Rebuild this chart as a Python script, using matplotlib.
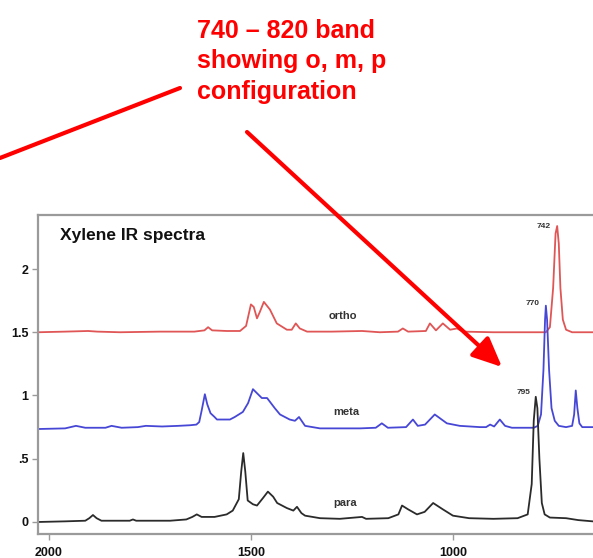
#%% importing modules
import numpy as np
import matplotlib.pyplot as plt
from matplotlib.ticker import FixedLocator, FixedFormatter

#%% spectra (wavenumber, absorbance offset)
ortho_wn = [2027, 1960, 1903, 1880, 1824, 1725, 1640, 1615, 1606, 1596, 1560, 1527,
            1512, 1500, 1493, 1485, 1478, 1468, 1453, 1436, 1411, 1399, 1389, 1379,
            1361, 1300, 1225, 1181, 1136, 1124, 1111, 1067, 1057, 1042, 1025, 1007,
            990, 975, 900, 800, 770, 760, 752, 746, 742, 738, 734, 728, 720, 705, 636]
ortho_y = [1.50, 1.505, 1.51, 1.505, 1.50, 1.505, 1.505, 1.515, 1.54, 1.515, 1.51, 1.51,
           1.55, 1.72, 1.70, 1.61, 1.66, 1.74, 1.68, 1.57, 1.52, 1.52, 1.57, 1.53,
           1.505, 1.505, 1.51, 1.50, 1.505, 1.53, 1.505, 1.51, 1.57, 1.515, 1.57, 1.52,
           1.53, 1.505, 1.50, 1.50, 1.50, 1.54, 1.85, 2.28, 2.34, 2.20, 1.85, 1.60, 1.52, 1.50, 1.50]

meta_wn = [2027, 1960, 1933, 1910, 1860, 1845, 1820, 1780, 1760, 1720, 1680, 1650,
           1635, 1628, 1622, 1614, 1608, 1600, 1590, 1584, 1552, 1540, 1520, 1507,
           1495, 1473, 1460, 1441, 1428, 1404, 1391, 1381, 1366, 1329, 1230, 1191,
           1176, 1161, 1116, 1099, 1087, 1069, 1045, 1015, 983, 933, 918, 908, 898,
           884, 871, 854, 800, 790, 782, 776, 772, 770, 767, 762, 756, 748, 738, 720,
           705, 700, 696, 692, 687, 680, 636]
meta_y = [0.735, 0.74, 0.76, 0.745, 0.745, 0.76, 0.745, 0.75, 0.76, 0.755, 0.76, 0.765,
          0.77, 0.79, 0.88, 1.01, 0.93, 0.86, 0.83, 0.81, 0.81, 0.83, 0.87, 0.94,
          1.05, 0.98, 0.98, 0.90, 0.85, 0.81, 0.80, 0.83, 0.76, 0.74, 0.74, 0.745,
          0.78, 0.745, 0.75, 0.81, 0.76, 0.77, 0.85, 0.78, 0.76, 0.75, 0.75, 0.77, 0.755,
          0.81, 0.76, 0.745, 0.745, 0.76, 0.85, 1.20, 1.60, 1.71, 1.60, 1.20, 0.90, 0.80, 0.76, 0.75,
          0.76, 0.85, 1.04, 0.90, 0.78, 0.75, 0.75]

para_wn = [2027, 1960, 1910, 1900, 1891, 1882, 1870, 1800, 1792, 1784, 1700, 1660,
           1645, 1634, 1622, 1590, 1560, 1545, 1530, 1524, 1519, 1514, 1508, 1495,
           1485, 1470, 1458, 1445, 1435, 1411, 1395, 1386, 1375, 1366, 1329, 1280,
           1225, 1215, 1160, 1135, 1126, 1111, 1089, 1070, 1049, 1025, 1000, 960,
           900, 840, 815, 805, 800, 795, 791, 786, 780, 773, 760, 720, 690, 636]
para_y = [0.0, 0.005, 0.01, 0.03, 0.055, 0.03, 0.01, 0.01, 0.02, 0.01, 0.01, 0.02,
          0.04, 0.06, 0.04, 0.04, 0.06, 0.09, 0.18, 0.40, 0.545, 0.40, 0.17, 0.14,
          0.13, 0.19, 0.24, 0.20, 0.15, 0.11, 0.09, 0.12, 0.07, 0.05, 0.03, 0.025,
          0.04, 0.025, 0.03, 0.06, 0.13, 0.10, 0.06, 0.08, 0.15, 0.10, 0.05, 0.03,
          0.025, 0.03, 0.06, 0.30, 0.80, 0.99, 0.90, 0.50, 0.15, 0.06, 0.035, 0.03, 0.015, 0.0]

y_ticks = [0, 0.5, 1, 1.5, 2]
y_tick_labels = ['0', '.5', '1', '1.5', '2']
x_ticks = [2000, 1500, 1000]
x_tick_labels = ['2000', '1500', '1000']

#%% figure and axes (right edge runs off the picture, as in the original)
W, H = 593, 558
fig = plt.figure(figsize=(W / 100, H / 100), dpi=100)
ax = fig.add_axes([38 / W, 1 - 534 / H, 562 / W, 319 / H])

line_kw = dict(lw=1.3, solid_joinstyle='round')
ax.plot(ortho_wn, ortho_y, color='#e05555', **line_kw)
ax.plot(meta_wn, meta_y, color='#4747d6', **line_kw)
ax.plot(para_wn, para_y, color='#2b2b2b', **line_kw)

ax.set_xlim(2027, 636)
ax.set_ylim(-0.095, 2.427)

# axis styling
for s in ax.spines.values():
    s.set_color('#9a9a9a')
    s.set_linewidth(1.6)
ax.xaxis.set_major_locator(FixedLocator(x_ticks))
ax.xaxis.set_major_formatter(FixedFormatter(x_tick_labels))
ax.yaxis.set_major_locator(FixedLocator(y_ticks))
ax.yaxis.set_major_formatter(FixedFormatter(y_tick_labels))
ax.tick_params(colors='#9a9a9a', length=4, width=1, labelcolor='#111111')
ax.tick_params(axis='x', pad=5)
ax.tick_params(axis='y', pad=3)
plt.setp(ax.get_xticklabels() + ax.get_yticklabels(), fontsize=9,
         fontweight='bold', family='Liberation Sans')

# labels inside the plot
ax.text(0.039, 0.937, 'Xylene IR spectra', transform=ax.transAxes, va='center',
        fontsize=12.5, fontweight='bold', family='Liberation Sans', color='#111111')
lab = dict(fontsize=8, fontweight='bold', family='Liberation Sans', color='#333333',
           ha='center', va='center')
ax.text(1272, 1.63, 'ortho', **lab)
ax.text(1265, 0.87, 'meta', **lab)
ax.text(1267, 0.15, 'para', **lab)
pk = dict(fontsize=6, fontweight='bold', family='Liberation Sans', color='#333333',
          ha='right', va='center')
ax.text(757, 2.34, '742', **pk)
ax.text(785, 1.73, '770', **pk)
ax.text(809, 1.02, '795', **pk)

#%% red call-out text and arrows (figure pixels, y up)
fig.text(197 / W, 1 - 19 / H, '740 \u2013 820 band\nshowing o, m, p\nconfiguration',
         ha='left', va='top', color='red', fontsize=18, fontweight='bold',
         family='Liberation Sans', linespacing=1.34)

ax.annotate('', xy=(0, H - 158), xycoords='figure pixels',
            xytext=(180, H - 88), textcoords='figure pixels',
            arrowprops=dict(arrowstyle='-', color='red', lw=3, shrinkA=0, shrinkB=0),
            annotation_clip=False)
ax.annotate('', xy=(502, H - 367), xycoords='figure pixels',
            xytext=(247, H - 132), textcoords='figure pixels',
            arrowprops=dict(arrowstyle='-|>,head_length=1.0,head_width=0.45',
                            mutation_scale=18, color='red', lw=3,
                            shrinkA=0, shrinkB=0),
            annotation_clip=False)

fig.savefig('out.png', dpi=100)
